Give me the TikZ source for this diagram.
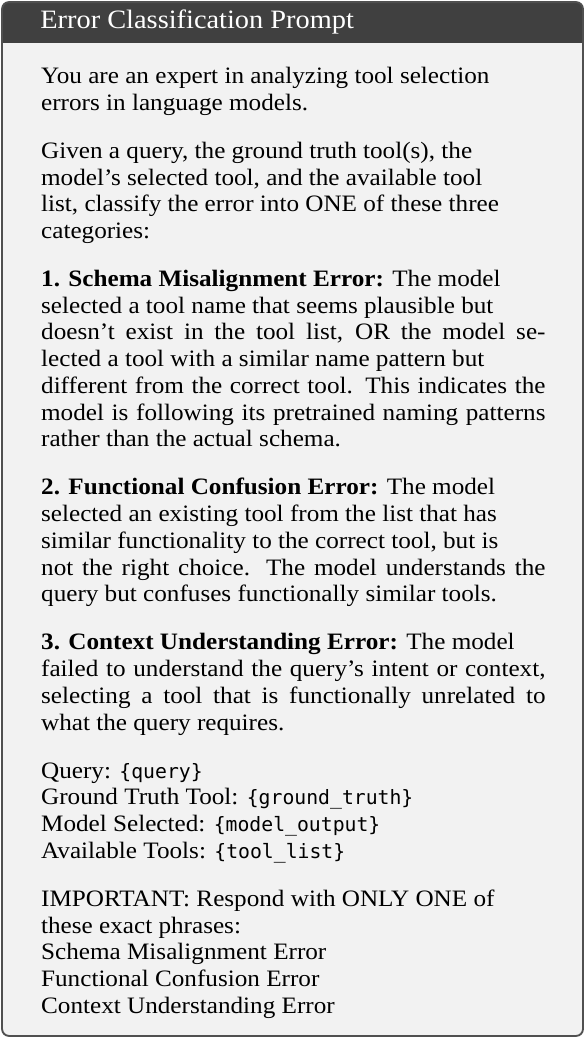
\documentclass[tikz,border=0pt]{standalone}
\usepackage{fontspec}
\setmainfont[FakeStretch=1.07]{Liberation Serif}
\setmonofont[Scale=0.84]{DejaVu Sans Mono}
\usetikzlibrary{positioning}

\definecolor{barcol}{HTML}{404040}
\definecolor{bodycol}{HTML}{F2F2F2}
\definecolor{rulecol}{HTML}{505050}

\tikzset{
  para/.style={anchor=north west,inner sep=0pt,text width=218.7pt,align=justify,
    font=\fontsize{10.2}{11.6}\selectfont},
  gap/.style={below=8.8pt of #1.south west,anchor=north west},
}

\begin{document}
\begin{tikzpicture}[x=1pt,y=1pt]
\useasboundingbox (0,0) rectangle (253.7,-450.1);

% box with title bar
\begin{scope}
\clip[rounded corners=3pt] (0.9,-0.9) rectangle (252.8,-449.2);
\fill[bodycol] (0.9,-0.9) rectangle (252.8,-449.2);
\fill[barcol] (0.9,-0.9) rectangle (252.8,-18.5);
\end{scope}
\draw[rulecol,line width=0.8pt,rounded corners=3pt] (0.9,-0.9) rectangle (252.8,-449.2);

\node[anchor=base west,inner sep=0pt,text=white,font=\fontsize{11.5}{13}\selectfont]
  (title) at (17.3,-12.3) {Error Classification Prompt};

% paragraphs (\\ = short line, \linebreak = full line)
\node[para] (p1) at (17.65,-27.9) {\strut You are an expert in analyzing tool selection\\
  errors in language models.\strut};
\node[para,gap=p1] (p2) {\strut Given a query, the ground truth tool(s), the\\
  model's selected tool, and the available tool\\
  list, classify the error into ONE of these three\\
  categories:\strut};
\node[para,gap=p2] (p3) {\strut\textbf{1. Schema Misalignment Error:} The model\\
  selected a tool name that seems plausible but\\
  doesn't exist in the tool list, OR the model se-\linebreak
  lected a tool with a similar name pattern but\\
  different from the correct tool. This indicates the\linebreak
  model is following its pretrained naming patterns\linebreak
  rather than the actual schema.\strut};
\node[para,gap=p3] (p4) {\strut\textbf{2. Functional Confusion Error:} The model\\
  selected an existing tool from the list that has\\
  similar functionality to the correct tool, but is\\
  not the right choice. The model understands the\linebreak
  query but confuses functionally similar tools.\strut};
\node[para,gap=p4] (p5) {\strut\textbf{3. Context Understanding Error:} The model\\
  failed to understand the query's intent or context,\linebreak
  selecting a tool that is functionally unrelated to\linebreak
  what the query requires.\strut};
\node[para,gap=p5] (p6) {\strut Query: \texttt{\{query\}}\\
  Ground Truth Tool: \texttt{\{ground\_truth\}}\\
  Model Selected: \texttt{\{model\_output\}}\\
  Available Tools: \texttt{\{tool\_list\}}\strut};
\node[para,gap=p6] (p7) {\strut IMPORTANT: Respond with ONLY ONE of\\
  these exact phrases:\\
  Schema Misalignment Error\\
  Functional Confusion Error\\
  Context Understanding Error\strut};
\end{tikzpicture}
\end{document}
